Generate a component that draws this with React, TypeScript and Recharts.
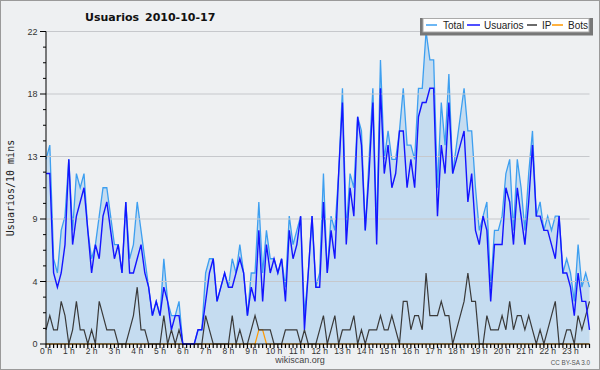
import { Area, ComposedChart, Line, ReferenceLine, XAxis, YAxis } from "recharts";

// one value every 10 minutes, 0h -> 23h50
const TOTAL = [
  13, 14, 6, 5, 8, 9, 13, 8, 12, 11, 12, 8,
  6, 7, 9, 11, 11, 9, 7, 7, 5, 10, 6, 7,
  10, 8, 6, 4, 2, 3, 2, 6, 3, 2, 2, 3,
  0, 0, 0, 0, 1, 1, 5, 6, 6, 3, 4, 5,
  4, 6, 5, 7, 5, 2, 5, 5, 10, 5, 8, 6,
  6, 5, 6, 4, 9, 7, 8, 9, 2, 5, 9, 4,
  5, 12, 5, 9, 8, 12, 18, 8, 12, 11, 16, 15,
  8, 13, 18, 8, 20, 13, 15, 13, 13, 15, 18, 14,
  14, 13, 18, 18, 22, 20, 20, 11, 17, 14, 19, 12,
  14, 16, 18, 15, 15, 11, 8, 9, 10, 4, 8, 8,
  9, 12, 13, 8, 13, 11, 8, 12, 15, 9, 10, 8,
  9, 8, 9, 9, 5, 6, 5, 3, 7, 4, 5, 4,
];

const USUARIOS = [
  12, 12, 5, 4, 5, 7, 13, 7, 9, 10, 11, 8,
  5, 7, 6, 9, 10, 8, 6, 7, 5, 10, 5, 5,
  6, 7, 5, 4, 2, 3, 2, 4, 3, 1, 2, 2,
  0, 0, 0, 0, 1, 1, 3, 5, 6, 3, 4, 5,
  4, 4, 5, 6, 5, 2, 4, 3, 8, 3, 7, 5,
  6, 5, 6, 3, 8, 6, 7, 9, 1, 5, 9, 4,
  4, 10, 5, 8, 6, 12, 17, 7, 11, 9, 16, 14,
  8, 12, 17, 7, 18, 12, 14, 11, 12, 15, 15, 11,
  13, 11, 16, 17, 17, 18, 18, 9, 14, 12, 17, 12,
  13, 14, 15, 10, 12, 8, 7, 9, 8, 3, 7, 7,
  7, 11, 10, 7, 11, 9, 7, 10, 14, 9, 9, 8,
  8, 7, 6, 9, 5, 5, 4, 2, 5, 3, 3, 1,
];

const IP = [
  1, 2, 1, 1, 3, 2, 0, 1, 3, 1, 1, 0,
  1, 0, 3, 2, 1, 1, 1, 0, 0, 0, 1, 2,
  4, 1, 1, 0, 0, 0, 0, 2, 0, 1, 0, 1,
  0, 0, 0, 0, 0, 0, 2, 1, 0, 0, 0, 0,
  0, 2, 0, 1, 0, 0, 1, 2, 1, 1, 1, 1,
  0, 0, 0, 1, 1, 1, 1, 0, 1, 0, 0, 0,
  1, 2, 0, 1, 2, 0, 1, 1, 1, 2, 0, 1,
  0, 1, 1, 1, 2, 1, 1, 2, 1, 0, 3, 3,
  1, 2, 2, 1, 5, 2, 2, 2, 3, 2, 2, 0,
  1, 2, 3, 5, 3, 3, 0, 0, 2, 1, 1, 1,
  2, 1, 3, 1, 2, 2, 1, 2, 1, 0, 1, 0,
  1, 2, 3, 0, 0, 1, 1, 0, 2, 1, 2, 3,
];

const BOTS = [
  0, 0, 0, 0, 0, 0, 0, 0, 0, 0, 0, 0,
  0, 0, 0, 0, 0, 0, 0, 0, 0, 0, 0, 0,
  0, 0, 0, 0, 0, 0, 0, 0, 0, 0, 0, 0,
  0, 0, 0, 0, 0, 0, 0, 0, 0, 0, 0, 0,
  0, 0, 0, 0, 0, 0, 0, 0, 1, 1, 0, 0,
  0, 0, 0, 0, 0, 0, 0, 0, 0, 0, 0, 0,
  0, 0, 0, 0, 0, 0, 0, 0, 0, 0, 0, 0,
  0, 0, 0, 0, 0, 0, 0, 0, 0, 0, 0, 0,
  0, 0, 0, 0, 0, 0, 0, 0, 0, 0, 0, 0,
  0, 0, 0, 0, 0, 0, 0, 0, 0, 0, 0, 0,
  0, 0, 0, 0, 0, 0, 0, 0, 0, 0, 0, 0,
  0, 0, 0, 0, 0, 0, 0, 0, 0, 0, 0, 0,
];

const HOUR_LABELS = [
  "0 h", "1 h", "2 h", "3 h", "4 h", "5 h", "6 h", "7 h", "8 h", "9 h", "10 h", "11 h",
  "12 h", "13 h", "14 h", "15 h", "16 h", "17 h", "18 h", "19 h", "20 h", "21 h", "22 h", "23 h",
];

const Y_TICKS = [0, 4.4, 8.8, 13.2, 17.6, 22];
const Y_LABELS = ["0", "4", "9", "13", "18", "22"];

const BG = "#eef0f2";
const C_TOTAL = "#3d9ff0";
const C_FILL = "#c5dcf0";
const C_USU = "#1414ff";
const C_IP = "#3a3a3a";
const C_BOTS = "#ff9900";
const SANS = "'Liberation Sans', Arial, sans-serif";

const rows = TOTAL.map((total, i) => ({
  i,
  total,
  usuarios: USUARIOS[i],
  ip: IP[i],
  bots: BOTS[i],
}));

const xTicks = rows.map((r) => r.i);

// 3 minor ticks between each labelled y tick
const yTicks: number[] = [];
Y_TICKS.forEach((t, k) => {
  yTicks.push(t);
  if (k < Y_TICKS.length - 1) {
    const step = (Y_TICKS[k + 1] - t) / 4;
    for (let j = 1; j < 4; j++) yTicks.push(t + step * j);
  }
});

function YTick({ x, y, payload }: any) {
  const major = Y_TICKS.findIndex((t) => Math.abs(t - payload.value) < 1e-6);
  return (
    <g>
      <line x1={x - (major >= 0 ? 6 : 3)} x2={x} y1={y} y2={y} stroke="#000" />
      {major >= 0 && (
        <text x={x - 8.5} y={y + 3} textAnchor="end" fontSize={9} fill="#333" fontFamily={SANS}>
          {Y_LABELS[major]}
        </text>
      )}
    </g>
  );
}

function XTick({ x, y, payload }: any) {
  const i = payload.value;
  const label = i % 6 === 0 ? HOUR_LABELS[i / 6] : null;
  return (
    <g>
      <line x1={x} x2={x} y1={y} y2={y + 4} stroke="#000" strokeWidth={1.2} />
      {label && (
        <text x={x} y={y + 9.5} textAnchor="middle" fontSize={8.5} fill="#333" fontFamily={SANS}>
          {label}
        </text>
      )}
    </g>
  );
}

function Overlay() {
  const legend = [
    { name: "Total", color: C_TOTAL, x1: 426, x2: 437, tx: 443 },
    { name: "Usuarios", color: C_USU, x1: 467, x2: 480, tx: 484 },
    { name: "IP", color: C_IP, x1: 527, x2: 537, tx: 542 },
    { name: "Bots", color: C_BOTS, x1: 552, x2: 563, tx: 568 },
  ];
  return (
    <svg width={600} height={370} style={{ position: "absolute", left: 0, top: 0, pointerEvents: "none" }}>
      <rect x={0.5} y={0.5} width={599} height={369} fill="none" stroke="#9a9a9a" />
      <text x={85} y={21} fontSize={11} fontWeight="bold" fontFamily="'DejaVu Sans', sans-serif" fill="#111">
        Usuarios
      </text>
      <text x={145} y={21} fontSize={11} fontWeight="bold" fontFamily="'DejaVu Sans', sans-serif" fill="#111">
        2010-10-17
      </text>
      <text
        x={14}
        y={188}
        transform="rotate(-90 14 188)"
        textAnchor="middle"
        fontSize={10}
        fontFamily="'DejaVu Sans Mono', monospace"
        fill="#222"
      >
        Usuarios/10 mins
      </text>
      <text x={300} y={363} textAnchor="middle" fontSize={9} fontFamily={SANS} fill="#444">
        wikiscan.org
      </text>
      <text x={590} y={365} textAnchor="end" fontSize={6.3} fontFamily={SANS} fill="#555">
        CC BY-SA 3.0
      </text>
      <rect x={420} y={18} width={173} height={17.5} fill="#777" />
      <rect x={423} y={18.5} width={166} height={13.5} fill="#fff" stroke="#aaa" strokeWidth={1} />
      {legend.map((l) => (
        <g key={l.name}>
          <line x1={l.x1} x2={l.x2} y1={25} y2={25} stroke={l.color} strokeWidth={1.5} />
          <text x={l.tx} y={28.5} fontSize={10} fontFamily={SANS} fill="#222">
            {l.name}
          </text>
        </g>
      ))}
    </svg>
  );
}

export default function App() {
  return (
    <div style={{ position: "absolute", left: 0, top: 0, width: 600, height: 370, background: BG }}>
      <ComposedChart width={600} height={370} data={rows} margin={{ top: 31.5, right: 10.5, bottom: 6, left: 6 }}>
        <XAxis
          type="number"
          dataKey="i"
          domain={[0, 143]}
          ticks={xTicks}
          interval={0}
          height={20}
          tickSize={0}
          tickMargin={0}
          tickLine={false}
          axisLine={{ stroke: "#000" }}
          tick={(p: any) => <XTick {...p} />}
        />
        <YAxis
          type="number"
          domain={[0, 22]}
          ticks={yTicks}
          interval={0}
          width={40}
          tickSize={0}
          tickMargin={0}
          tickLine={false}
          axisLine={{ stroke: "#000" }}
          tick={(p: any) => <YTick {...p} />}
        />
        <Area
          type="linear"
          dataKey="total"
          stroke={C_TOTAL}
          strokeWidth={1.3}
          fill={C_FILL}
          fillOpacity={1}
          dot={false}
          activeDot={false}
          isAnimationActive={false}
        />
        {Y_TICKS.slice(1).map((v) => (
          <ReferenceLine key={v} y={v} stroke="#c6c8cc" ifOverflow="visible" />
        ))}
        <Line type="linear" dataKey="bots" stroke={C_BOTS} strokeWidth={1.2} dot={false} activeDot={false} isAnimationActive={false} />
        <Line type="linear" dataKey="ip" stroke={C_IP} strokeWidth={1.2} dot={false} activeDot={false} isAnimationActive={false} />
        <Line type="linear" dataKey="usuarios" stroke={C_USU} strokeWidth={1.4} dot={false} activeDot={false} isAnimationActive={false} />
      </ComposedChart>
      <Overlay />
    </div>
  );
}
